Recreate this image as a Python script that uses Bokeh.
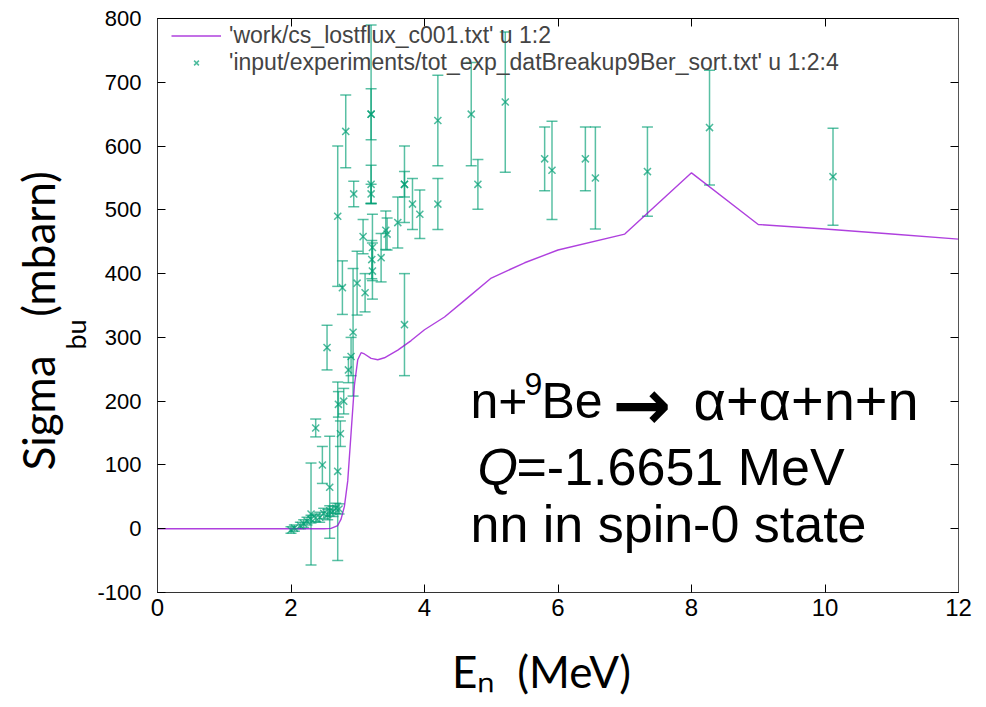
from bokeh.plotting import figure
from bokeh.models import (ColumnDataSource, Whisker, TeeHead, Label, Legend, LegendItem,
                          LinearAxis, FixedTicker, Range1d, Title)
from bokeh.embed import file_html
from bokeh.resources import INLINE

# ---- data ----
curve_e = [0.0, 2.5, 2.6, 2.7, 2.75, 2.8, 2.85, 2.9, 2.95, 3.0, 3.05, 3.1, 3.2, 3.3, 3.4,
           3.6, 3.8, 4.0, 4.3, 4.6, 5.0, 5.5, 6.0, 7.0, 8.0, 9.0, 10.0, 11.0, 12.0]
curve_sigma = [0, 0, 0.5, 5, 15, 35, 75, 150, 225, 265, 276, 274, 267, 265, 268,
               280, 295, 312, 332, 358, 393, 417, 437, 462, 558, 477, 470, 462, 454]

exp_e = [2.00, 2.05, 2.14, 2.19, 2.24, 2.30, 2.37, 2.43, 2.49, 2.55, 2.58, 2.63, 2.67, 2.72,
         2.30, 2.37, 2.47, 2.58, 2.70, 2.74, 2.71, 2.79, 2.54, 2.86, 2.90, 2.93,
         2.70, 2.77, 2.82, 2.94, 2.99, 3.08, 3.11, 3.20, 3.20, 3.20, 3.20, 3.22, 3.21, 3.22,
         3.35, 3.42, 3.44, 3.60, 3.70, 3.70, 3.70, 3.82, 3.93, 4.20, 4.20, 4.70, 4.80,
         5.21, 5.80, 5.91, 6.41, 6.56, 7.34, 8.27, 10.12]
exp_sigma = [-2, 1, 5, 8, 12, 15, 17, 18, 24, 22, 28, 27, 32, 31,
             23, 158, 100, 65, 90, 149, 195, 200, 284, 249, 270, 308,
             490, 378, 623, 525, 385, 458, 370, 650, 650, 540, 525, 441, 422, 404,
             425, 468, 462, 480, 540, 540, 320, 509, 493, 640, 509, 650, 540,
             669, 580, 562, 580, 550, 560, 629, 552]
exp_err = [5, 5, 5, 6, 6, 6, 6, 8, 8, 8, 8, 8, 8, 8,
           80, 14, 29, 80, 140, 20, 20, 20, 35, 20, 30, 100,
           110, 42, 57, 20, 50, 27, 30, 40, 140, 30, 15, 52, 30, 44,
           38, 30, 25, 40, 20, 60, 80, 40, 38, 71, 40, 81, 39,
           110, 50, 77, 50, 80, 70, 90, 76]

x_ticks = [0, 2, 4, 6, 8, 10, 12]
y_ticks = [-100, 0, 100, 200, 300, 400, 500, 600, 700, 800]

label_curve = "'work/cs_lostflux_c001.txt' u 1:2"
label_exp = "'input/experiments/tot_exp_datBreakup9Ber_sort.txt' u 1:2:4"

PURPLE = "#9400D3"
GREEN = "#009E73"

# ---- figure ----
p = figure(width=986, height=707, output_backend="svg", toolbar_location=None,
           x_range=Range1d(0, 12), y_range=Range1d(-100, 800),
           min_border_left=157, min_border_right=28, min_border_top=18, min_border_bottom=115,
           background_fill_color="white", border_fill_color="white")
p.grid.visible = False
p.outline_line_color = "black"
p.outline_line_width = 1

for ax in p.xaxis:
    ax.ticker = FixedTicker(ticks=x_ticks)
    ax.major_tick_in = 8
    ax.major_tick_out = 0
    ax.minor_tick_line_color = None
    ax.axis_line_color = "#333333"
    ax.major_label_text_font = "Liberation Sans"
    ax.major_label_text_font_size = "24px"
    ax.major_label_text_color = "black"
    ax.major_label_standoff = 6
    ax.axis_label = "E\u2099\u2002(MeV)\u2003"
    ax.axis_label_text_font = "Lato"
    ax.axis_label_text_font_size = "44px"
    ax.axis_label_text_font_style = "normal"
    ax.axis_label_text_color = "black"
    ax.axis_label_standoff = 26
for ax in p.yaxis:
    ax.ticker = FixedTicker(ticks=y_ticks)
    ax.major_label_overrides = {-100: "-100"}
    ax.major_tick_in = 8
    ax.major_tick_out = 0
    ax.minor_tick_line_color = None
    ax.axis_line_color = "#333333"
    ax.major_label_text_font = "Liberation Sans"
    ax.major_label_text_font_size = "22px"
    ax.major_label_text_color = "black"
    ax.major_label_standoff = 16

# mirror ticks on top and right (labels not painted)
top_ax = LinearAxis(ticker=FixedTicker(ticks=x_ticks), major_tick_in=8, major_tick_out=0,
                    minor_tick_line_color=None, major_label_text_font_size="8px",
                    major_label_text_color=None, major_label_standoff=0,
                    axis_line_color="black")
right_ax = LinearAxis(ticker=FixedTicker(ticks=y_ticks), major_tick_in=8, major_tick_out=0,
                      minor_tick_line_color=None, major_label_text_font_size="8px",
                      major_label_text_color=None, major_label_standoff=0,
                      axis_line_color="#555555")
p.add_layout(top_ax, "above")
p.add_layout(right_ax, "right")

# y-axis title: Sigma_bu (mbarn), built from two side titles
t_bu = Title(text="bu", align="left", offset=243, standoff=6, text_font="Lato",
             text_font_size="27px", text_font_style="normal", text_color="black")
p.add_layout(t_bu, "left")
t_main = Title(text="Sigma\u2003\u2009(mbarn)", align="left", offset=122, standoff=-20,
               text_font="Lato", text_font_size="44px", text_font_style="normal",
               text_color="black")
p.add_layout(t_main, "left")

# ---- model curve ----
curve_src = ColumnDataSource(dict(x=curve_e, y=curve_sigma))
r_curve = p.line("x", "y", source=curve_src, line_color=PURPLE, line_width=1.4, line_alpha=0.75)

# ---- experimental data ----
exp_src = ColumnDataSource(dict(
    x=exp_e, y=exp_sigma,
    lower=[s - e for s, e in zip(exp_sigma, exp_err)],
    upper=[s + e for s, e in zip(exp_sigma, exp_err)],
))
wh = Whisker(base="x", lower="lower", upper="upper", dimension="height", source=exp_src,
             line_color=GREEN, line_width=1.5, line_alpha=0.65,
             upper_head=TeeHead(size=11, line_color=GREEN, line_width=1.5, line_alpha=0.65),
             lower_head=TeeHead(size=11, line_color=GREEN, line_width=1.5, line_alpha=0.65))
p.add_layout(wh)
r_exp = p.scatter("x", "y", source=exp_src, marker="x", size=10, line_color=GREEN,
                  line_width=1.5, line_alpha=0.7)

# ---- legend ----
legend = Legend(items=[LegendItem(label=label_curve, renderers=[r_curve]),
                       LegendItem(label=label_exp, renderers=[r_exp])],
                location=(14, 516), label_text_font="Liberation Sans",
                label_text_font_size="23px", label_height=17, glyph_height=17, glyph_width=50,
                spacing=0, padding=2, margin=0, background_fill_alpha=0,
                border_line_color=None, label_standoff=8)
p.add_layout(legend)


# ---- helpers for text placement (pixel -> data) ----
def dx(px):
    return (px - 157) * 12.0 / 801.0


def dy(py):
    return 800.0 - (py - 18) * 900.0 / 574.0


# ---- reaction annotation ----
TF = "Liberation Sans"
FS = "52px"
common = dict(text_align="left", text_baseline="alphabetic", text_color="black")
p.add_layout(Label(x=dx(470), y=dy(400), text="n+", text_font=TF, text_font_size="50px", **common))
p.add_layout(Label(x=dx(524), y=dy(383), text="9", text_font=TF, text_font_size="32px", **common))
p.add_layout(Label(x=dx(541), y=dy(400), text="Be", text_font=TF, text_font_size="50px", **common))
p.add_layout(Label(x=dx(612), y=dy(404), text="\u2192", text_font="DejaVu Sans",
                   text_font_size="70px", text_font_style="bold", **common))
p.add_layout(Label(x=dx(693), y=dy(400), text="\u03b1+\u03b1+n+n", text_font=TF,
                   text_font_size="56px", **common))
p.add_layout(Label(x=dx(477), y=dy(466), text="Q", text_font=TF, text_font_size=FS,
                   text_font_style="italic", **common))
p.add_layout(Label(x=dx(516), y=dy(466), text="=-1.6651 MeV", text_font=TF,
                   text_font_size=FS, **common))
p.add_layout(Label(x=dx(470), y=dy(523), text="nn in spin-0 state", text_font=TF,
                   text_font_size=FS, **common))

open("out.html", "w").write(file_html(p, INLINE))
